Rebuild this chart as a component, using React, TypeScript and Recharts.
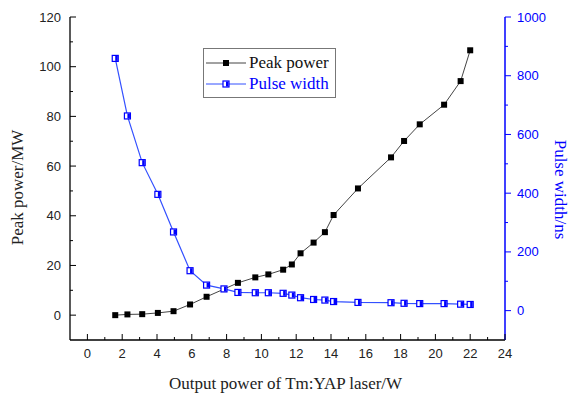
import React from "react";
import { Legend, Line, LineChart, XAxis, YAxis } from "recharts";

// output power of the Tm:YAP laser (W), shared by both series
const outputPower = [1.6, 2.3, 3.15, 4.05, 4.95, 5.9, 6.85, 7.85, 8.65, 9.65, 10.4, 11.25, 11.75, 12.25, 13.0, 13.65, 14.15, 15.55, 17.45, 18.2, 19.1, 20.5, 21.45, 22.0];
// peak power (MW)
const peakPower = [0, 0.3, 0.4, 0.9, 1.6, 4.3, 7.4, 10.5, 13.0, 15.2, 16.4, 18.3, 20.4, 24.9, 29.2, 33.4, 40.3, 51.0, 63.5, 70.1, 76.8, 84.7, 94.2, 106.6];
// pulse width (ns)
const pulseWidth = [859, 663, 504, 396, 268, 136, 87, 74, 62, 61, 61, 59, 53, 44, 38, 36, 31, 28, 27, 25, 24, 24, 22, 21];

const xTicks = [0, 1, 2, 3, 4, 5, 6, 7, 8, 9, 10, 11, 12, 13, 14, 15, 16, 17, 18, 19, 20, 21, 22, 23, 24];
const peakTicks = [0, 10, 20, 30, 40, 50, 60, 70, 80, 90, 100, 110, 120];
const widthTicks = [0, 100, 200, 300, 400, 500, 600, 700, 800, 900, 1000];

const rows = outputPower.map((x, i) => ({ x, peak: peakPower[i], width: pulseWidth[i] }));

const BLUE = "#0000ff";
const LINE_BLUE = "#3350ff";
const SANS = '"Liberation Sans", Arial, sans-serif';
const SERIF = '"Liberation Serif", "Times New Roman", serif';

const XTick = ({ x, y, payload }: any) => {
  const major = payload.value % 2 === 0;
  return (
    <g>
      <line x1={x} y1={y} x2={x} y2={y - (major ? 6 : 3)} stroke="#000" />
      {major && (
        <text x={x} y={y + 18} textAnchor="middle" fontFamily={SANS} fontSize={13} fill="#222">
          {payload.value}
        </text>
      )}
    </g>
  );
};

const PeakTick = ({ x, y, payload }: any) => {
  const major = payload.value % 20 === 0;
  return (
    <g>
      <line x1={x} y1={y} x2={x + (major ? 6 : 3)} y2={y} stroke="#000" />
      {major && (
        <text x={x - 9} y={y + 4.5} textAnchor="end" fontFamily={SANS} fontSize={13} fill="#222">
          {payload.value}
        </text>
      )}
    </g>
  );
};

const WidthTick = ({ x, y, payload }: any) => {
  const major = payload.value % 200 === 0;
  return (
    <g>
      <line x1={x} y1={y} x2={x + (major ? 6 : 3)} y2={y} stroke={BLUE} />
      {major && (
        <text x={x + 12} y={y + 4.5} textAnchor="start" fontFamily={SANS} fontSize={13} fill={BLUE}>
          {payload.value}
        </text>
      )}
    </g>
  );
};

const BlackSquare = ({ cx, cy, index }: any) => (
  <rect key={`p${index}`} x={cx - 3} y={cy - 3} width={6} height={6} fill="#000" />
);

const BlueSquare = ({ cx, cy, index }: any) => (
  <g key={`w${index}`}>
    <rect x={cx - 3} y={cy - 3} width={6} height={6} fill="#fff" stroke={BLUE} strokeWidth={1.2} />
    <rect x={cx} y={cy - 2.5} width={2.5} height={5} fill={BLUE} />
  </g>
);

const leftTitle = ({ viewBox }: any) => {
  const cx = viewBox.x + 17;
  const cy = viewBox.y + viewBox.height / 2 + 9;
  return (
    <text x={cx} y={cy} transform={`rotate(-90 ${cx} ${cy})`} textAnchor="middle" dominantBaseline="central" fontFamily={SERIF} fontSize={17} fill="#222">
      Peak power/MW
    </text>
  );
};

const rightTitle = ({ viewBox }: any) => {
  const cx = viewBox.x + 55;
  const cy = viewBox.y + viewBox.height / 2 + 11;
  return (
    <text x={cx} y={cy} transform={`rotate(90 ${cx} ${cy})`} textAnchor="middle" dominantBaseline="central" fontFamily={SERIF} fontSize={17} fill={BLUE}>
      Pulse width/ns
    </text>
  );
};

const bottomTitle = ({ viewBox }: any) => (
  <text x={viewBox.x + viewBox.width / 2 - 2} y={viewBox.y + 43} textAnchor="middle" dominantBaseline="central" fontFamily={SERIF} fontSize={17} fill="#222">
    Output power of Tm:YAP laser/W
  </text>
);

const LegendBox = ({ payload }: any) => (
  <div
    style={{
      width: 133,
      height: 50,
      boxSizing: "border-box",
      border: "1px solid #777",
      background: "#fff",
      padding: "4px 0 0 2px",
      fontFamily: SERIF,
      fontSize: 17,
      lineHeight: "20px",
    }}
  >
    {(payload || []).map((item: any) => {
      const blue = item.dataKey === "width";
      return (
        <div key={item.value} style={{ display: "flex", alignItems: "center", height: 20.5 }}>
          <svg width={40} height={12}>
            <line x1={0} y1={6} x2={40} y2={6} stroke={blue ? LINE_BLUE : "#444"} />
            {blue ? (
              <g>
                <rect x={17} y={3} width={6} height={6} fill="#fff" stroke={BLUE} strokeWidth={1.2} />
                <rect x={20} y={3.5} width={2.5} height={5} fill={BLUE} />
              </g>
            ) : (
              <rect x={17} y={3} width={6} height={6} fill="#000" />
            )}
          </svg>
          <span style={{ marginLeft: 3, color: blue ? BLUE : "#111" }}>{item.value}</span>
        </div>
      );
    })}
  </div>
);

export default function App() {
  return (
    <div style={{ position: "fixed", left: 0, top: 0, background: "#fff" }}>
      <LineChart width={571} height={393} data={rows} margin={{ top: 17, right: 0, bottom: 0, left: 0 }}>
        <XAxis
          dataKey="x"
          type="number"
          domain={[-1, 24]}
          ticks={xTicks}
          interval={0}
          allowDataOverflow
          height={53}
          tickSize={0}
          tickMargin={0}
          tick={<XTick />}
          axisLine={{ stroke: "#000", strokeWidth: 1.3 }}
          label={{ content: bottomTitle }}
        />
        <XAxis
          xAxisId="top"
          orientation="top"
          dataKey="x"
          type="number"
          domain={[-1, 24]}
          height={0}
          tick={false}
          tickLine={false}
          axisLine={{ stroke: "#222", strokeWidth: 1.6 }}
        />
        <YAxis
          yAxisId="peak"
          type="number"
          domain={[-10, 120]}
          ticks={peakTicks}
          interval={0}
          allowDataOverflow
          width={70}
          tickSize={0}
          tickMargin={0}
          tick={<PeakTick />}
          axisLine={{ stroke: "#000", strokeWidth: 1.3 }}
          label={{ content: leftTitle }}
        />
        <YAxis
          yAxisId="width"
          orientation="right"
          type="number"
          domain={[-100, 1000]}
          ticks={widthTicks}
          interval={0}
          allowDataOverflow
          width={66}
          tickSize={0}
          tickMargin={0}
          tick={<WidthTick />}
          axisLine={{ stroke: BLUE, strokeWidth: 1.5 }}
          label={{ content: rightTitle }}
        />
        <Legend
          layout="vertical"
          align="center"
          verticalAlign="middle"
          content={<LegendBox />}
          wrapperStyle={{ left: 203, top: 48, width: 133, height: 50 }}
        />
        <Line
          yAxisId="peak"
          dataKey="peak"
          name="Peak power"
          type="linear"
          stroke="#444"
          strokeWidth={1}
          dot={BlackSquare}
          activeDot={false}
          isAnimationActive={false}
        />
        <Line
          yAxisId="width"
          dataKey="width"
          name="Pulse width"
          type="linear"
          stroke={LINE_BLUE}
          strokeWidth={1.2}
          dot={BlueSquare}
          activeDot={false}
          isAnimationActive={false}
        />
      </LineChart>
    </div>
  );
}
